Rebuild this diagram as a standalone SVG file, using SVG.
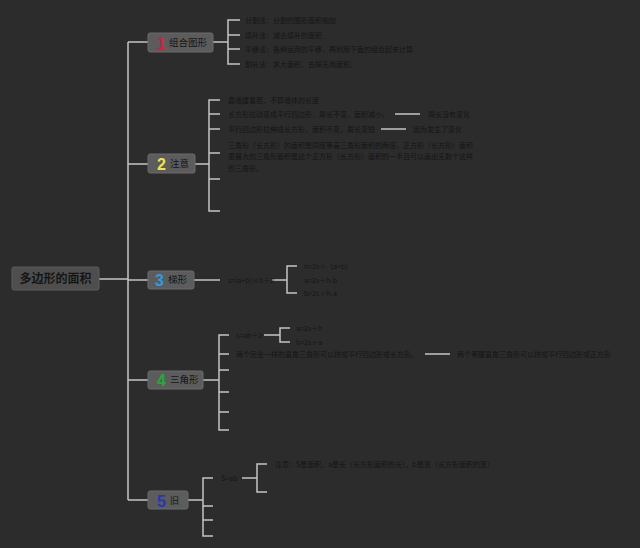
<svg xmlns="http://www.w3.org/2000/svg" width="640" height="548" viewBox="0 0 640 548">
<style>
.bg{fill:#2c2c2c}
.node{fill:#5c5c5c;stroke:#6a6a6a;stroke-width:1}
.root{fill:#4e4e4e;stroke:#5a5a5a;stroke-width:1}
.ln{stroke:#c4c4c4;stroke-width:1.5;fill:none}
.t{font-family:"Noto Sans CJK SC","Noto Sans",sans-serif;fill:#151515}
.s{font-size:7px}
.lbl{font-size:9.5px}
.num{font-family:"Liberation Sans","Noto Sans",sans-serif;font-weight:bold;font-size:16px}
</style>
<rect class="bg" x="0" y="0" width="640" height="548"/>
<g id="connectors">
<path class="ln" d="M99 279H128M128 42V500M128 42H148M128 164H148M128 280H148M128 380H148M128 500H148"/>
<path class="ln" d="M213 42H228M240 20H228V64H240M228 35H240M228 49H240"/>
<path class="ln" d="M195 164H209M220 100H209V211H220M209 114H220M209 129H220M209 153H220M209 179H220"/>
<path class="ln" d="M395 114H420M381 129H406"/>
<path class="ln" d="M194 280H220M272 280H287M297 266H287V293H297"/>
<path class="ln" d="M203 380H219M229 335H219V430H229M219 354H229M219 370H229M219 392H229M219 412H229"/>
<path class="ln" d="M264 335H280M290 328H280V342H290M425 354H450"/>
<path class="ln" d="M188 500H203M213 478H203V536H213M203 506H213M203 520H213"/>
<path class="ln" d="M242 478H257M267 464H257V492H267"/>
</g>
<g id="root">
<rect class="root" x="12" y="267" width="87" height="23" rx="2"/>
<text class="t" x="55.5" y="283" text-anchor="middle" font-size="12" font-weight="bold">多边形的面积</text>
</g>
<g id="node1">
<rect class="node" x="148" y="33" width="65" height="19" rx="2"/>
<text class="num" x="157" y="49" fill="#d3203c">1</text>
<text class="t lbl" x="169" y="46">组合图形</text>
</g>
<g id="node1-items">
<text class="t s" x="245" y="22.5">分割法：分割的图形面积相加</text>
<text class="t s" x="245" y="37.5">填补法：减去填补的面积</text>
<text class="t s" x="245" y="51.5">平移法：各种运用的平移，再利用下面的组合起来计算</text>
<text class="t s" x="245" y="66.5">割补法：求大面积，去掉无用面积。</text>
</g>
<g id="node2">
<rect class="node" x="148" y="154" width="47" height="19" rx="2"/>
<text class="num" x="157" y="170" fill="#f2e24a">2</text>
<text class="t lbl" x="170" y="167">注意</text>
</g>
<g id="node2-items">
<text class="t s" x="228" y="102.5">靠墙建篱笆，不算墙体的长度</text>
<text class="t s" x="228" y="116.5">长方形拉动变成平行四边形，周长不变，面积减小。</text>
<text class="t s" x="428" y="116.5">周长没有变化</text>
<text class="t s" x="228" y="131.5">平行四边形拉伸成长方形，面积不变，周长变短</text>
<text class="t s" x="413" y="131.5">因为发生了变化</text>
<text class="t s" x="228" y="147.5">三角形（长方形）的面积是同底等高三角形面积的两倍，正方形（长方形）面积</text>
<text class="t s" x="228" y="159">里最大的三角形面积是这个正方形（长方形）面积的一半且可以画出无数个这样</text>
<text class="t s" x="228" y="170.5">的三角形。</text>
</g>
<g id="node3">
<rect class="node" x="148" y="271" width="46" height="18" rx="2"/>
<text class="num" x="155" y="286" fill="#2f9be0">3</text>
<text class="t lbl" x="168" y="283">梯形</text>
</g>
<g id="node3-items">
<text class="t s" x="228" y="282.5">s=(a+b)×h÷2</text>
<text class="t s" x="304" y="268.5">h=2s÷（a+b)</text>
<text class="t s" x="304" y="282.5">a=2s÷h-b</text>
<text class="t s" x="304" y="295.5">b=2s÷h-a</text>
</g>
<g id="node4">
<rect class="node" x="148" y="371" width="55" height="18" rx="2"/>
<text class="num" x="157" y="386" fill="#27a83a">4</text>
<text class="t lbl" x="170" y="383">三角形</text>
</g>
<g id="node4-items">
<text class="t s" x="236" y="337.5">s=ah÷2</text>
<text class="t s" x="296" y="330.5">a=2s÷h</text>
<text class="t s" x="296" y="344.5">h=2s÷a</text>
<text class="t s" x="236" y="356.5">两个完全一样的直角三角形可以拼成平行四边形或长方形。</text>
<text class="t s" x="457" y="356.5">两个等腰直角三角形可以拼成平行四边形或正方形</text>
</g>
<g id="node5">
<rect class="node" x="148" y="491" width="40" height="18" rx="2"/>
<text class="num" x="157" y="507" fill="#2a35b0">5</text>
<text class="t" x="170" y="503.5" font-size="9">旧</text>
</g>
<g id="node5-items">
<text class="t s" x="221" y="480.5">S=ab</text>
<text class="t s" x="275" y="466.5">注意：S是面积，a是长（长方形面积的长），b是宽（长方形面积的宽）</text>
</g>
</svg>
